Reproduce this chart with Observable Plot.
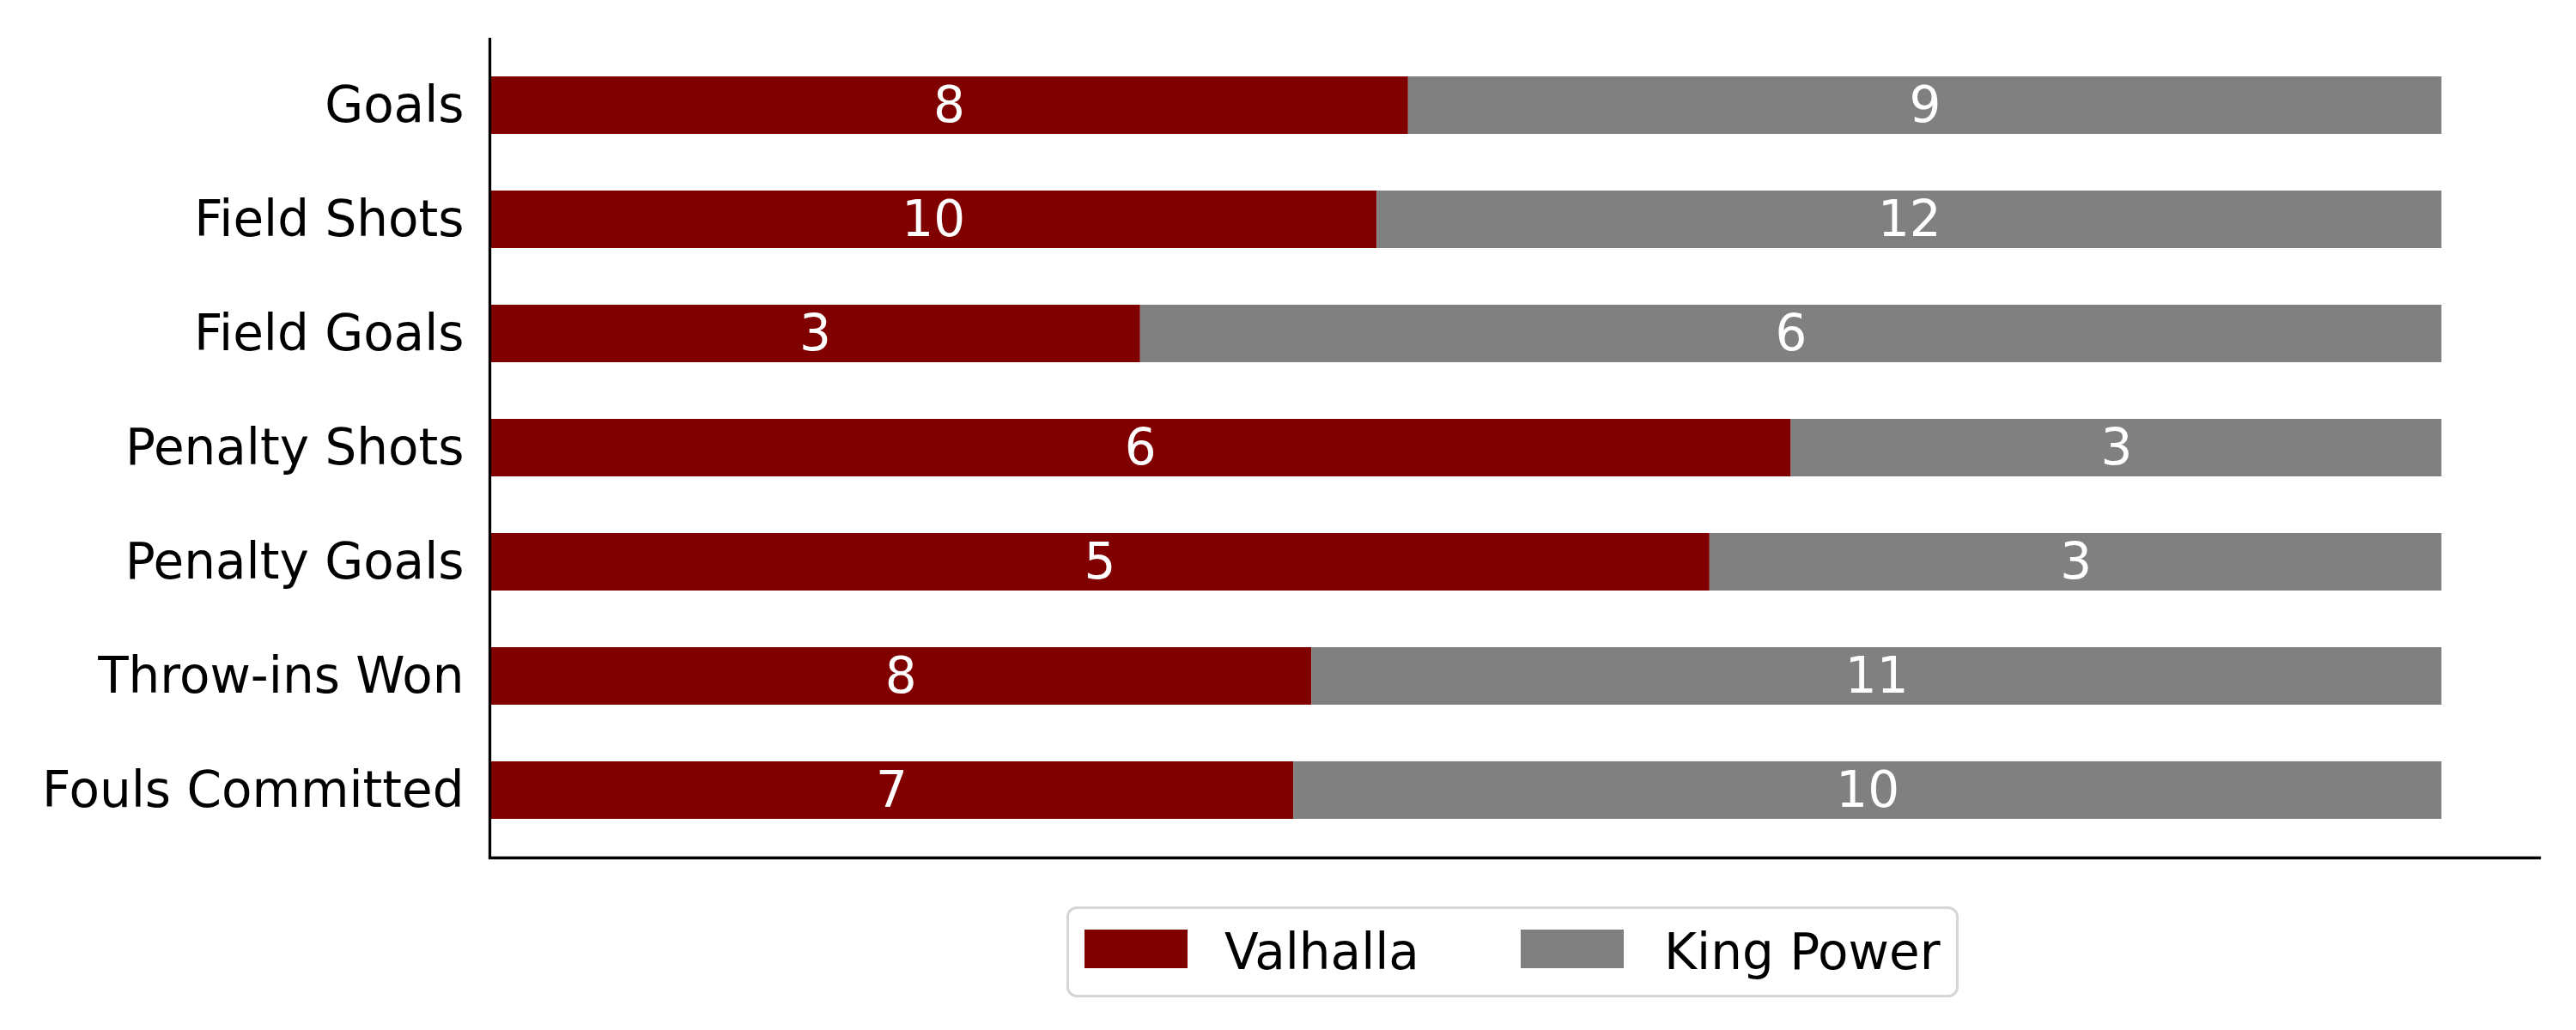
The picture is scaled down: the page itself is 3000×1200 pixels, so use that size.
<!DOCTYPE html>
<html>
<head>
<meta charset="utf-8">
<script src="https://cdn.jsdelivr.net/npm/d3@7"></script>
<script src="https://cdn.jsdelivr.net/npm/@observablehq/plot@0.6"></script>
<style>
  html, body { margin: 0; padding: 0; background: #fff; }
  #wrap { position: relative; width: 3000px; height: 1200px; font-family: "DejaVu Sans", sans-serif; }
  #legend { position: absolute; left: 1242px; top: 1056px; width: 1033px; height: 100px;
            border: 3px solid #d6d6d6; border-radius: 12px; background: #fff; box-sizing: content-box; }
  .sw { position: absolute; width: 120px; height: 45px; top: 24px; }
  .lt { position: absolute; top: 0; height: 100px; line-height: 100px; font-size: 58px; color: #000; white-space: nowrap; }
</style>
</head>
<body>
<div id="wrap"></div>
<script>
const categories = ["Goals", "Field Shots", "Field Goals", "Penalty Shots", "Penalty Goals", "Throw-ins Won", "Fouls Committed"];
const teams = ["Valhalla", "King Power"];
const valhalla = [8, 10, 3, 6, 5, 8, 7];
const kingPower = [9, 12, 6, 3, 3, 11, 10];
const colors = ["#800000", "#808080"];

const data = [];
categories.forEach((c, i) => {
  data.push({category: c, team: teams[0], value: valhalla[i]});
  data.push({category: c, team: teams[1], value: kingPower[i]});
});

const stackOpts = {offset: "normalize", order: teams, z: "team"};

const chart = Plot.plot({
  width: 3000,
  height: 1200,
  marginLeft: 570,
  marginRight: 43,
  marginTop: 44,
  marginBottom: 201,
  style: {fontFamily: "DejaVu Sans, sans-serif", background: "#fff"},
  x: {domain: [0, 1.05], axis: null},
  y: {domain: categories, paddingInner: 0.5, paddingOuter: 0.325, axis: null},
  color: {domain: teams, range: colors},
  marks: [
    Plot.barX(data, Plot.stackX({...stackOpts, x: "value", y: "category", fill: "team"})),
    Plot.text(data, Plot.stackX({...stackOpts, x: "value", y: "category", text: d => String(d.value), fill: "white", fontSize: 58})),
    Plot.axisY({tickSize: 0, tickPadding: 30, fontSize: 58, fill: "#000", label: null}),
    Plot.ruleX([0], {stroke: "#000", strokeWidth: 3.3}),
    Plot.frame({anchor: "bottom", stroke: "#000", strokeWidth: 3.3})
  ]
});

const wrap = document.getElementById("wrap");
wrap.appendChild(chart);

const legend = document.createElement("div");
legend.id = "legend";
const swLeft = [18, 526];
const txLeft = [181, 693];
teams.forEach((t, i) => {
  const sw = document.createElement("div");
  sw.className = "sw";
  sw.style.left = swLeft[i] + "px";
  sw.style.background = colors[i];
  legend.appendChild(sw);
  const tx = document.createElement("div");
  tx.className = "lt";
  tx.style.left = txLeft[i] + "px";
  tx.textContent = t;
  legend.appendChild(tx);
});
wrap.appendChild(legend);
</script>
</body>
</html>
